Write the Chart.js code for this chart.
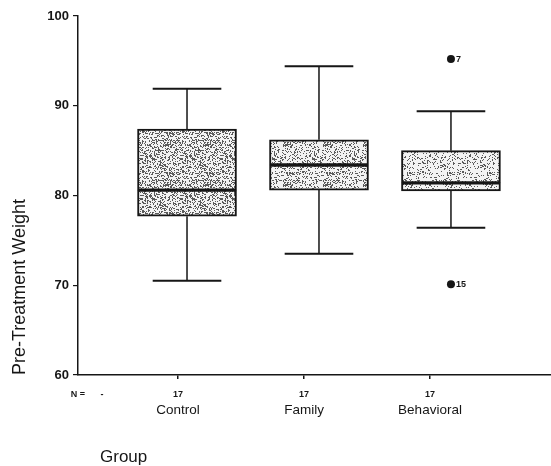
<!DOCTYPE html>
<html>
<head>
<meta charset="utf-8">
<script src="https://cdn.jsdelivr.net/npm/chart.js@4.4.1/dist/chart.umd.min.js"></script>
<style>
  html, body { margin: 0; padding: 0; background: #fff; }
</style>
</head>
<body>
<canvas id="boxChart" width="551" height="466"></canvas>
<script>
// values
const groups = ['Control', 'Family', 'Behavioral'];
const groupN = [17, 17, 17];
const whiskerLow = [70.5, 73.5, 76.4];
const quartile1 = [77.7, 80.6, 80.5];
const medians = [80.6, 83.4, 81.4];
const quartile3 = [87.4, 86.2, 85.0];
const whiskerHigh = [91.9, 94.4, 89.4];
const outlierGroup = [3, 3];
const outlierValues = [95.2, 70.1];
const outlierIds = ['7', '15'];
const yTicks = [60, 70, 80, 90, 100];

const INK = '#161616';
Chart.defaults.font.family = '"Liberation Sans", Arial, Helvetica, sans-serif';
Chart.defaults.color = INK;

// speckled grey fill like the scanned boxes (fixed hash, not random)
function stipple(density) {
    const size = 40;
    const c = document.createElement('canvas');
    c.width = c.height = size;
    const g = c.getContext('2d');
    g.fillStyle = '#f3f3f3';
    g.fillRect(0, 0, size, size);
    g.fillStyle = '#5a5a5a';
    for (let i = 0; i < size; i++) {
        for (let j = 0; j < size; j++) {
            const s = Math.sin(i * 12.9898 + j * 78.233) * 43758.5453;
            if (s - Math.floor(s) < density) g.fillRect(i, j, 1, 1);
        }
    }
    return g.createPattern(c, 'repeat');
}
const fills = [stipple(0.36), stipple(0.27), stipple(0.2)];

const capHalf = 0.26;
const stems = [];
const caps = [];
groups.forEach((g, i) => {
    const x = i + 1;
    stems.push({x: x, y: quartile3[i]}, {x: x, y: whiskerHigh[i]}, {x: x, y: null});
    stems.push({x: x, y: quartile1[i]}, {x: x, y: whiskerLow[i]}, {x: x, y: null});
    caps.push({x: x - capHalf, y: whiskerHigh[i]}, {x: x + capHalf, y: whiskerHigh[i]}, {x: x, y: null});
    caps.push({x: x - capHalf, y: whiskerLow[i]}, {x: x + capHalf, y: whiskerLow[i]}, {x: x, y: null});
});

const boxStyle = {
    type: 'bar',
    grouped: false,
    barThickness: 99,
    borderWidth: 2,
    borderColor: INK,
    borderSkipped: false,
    backgroundColor: fills,
    xAxisID: 'x',
    yAxisID: 'y'
};

const outlierLabels = {
    id: 'outlierLabels',
    afterDatasetsDraw(chart) {
        const ctx = chart.ctx;
        const meta = chart.getDatasetMeta(4);
        ctx.save();
        ctx.font = 'bold 9px "Liberation Sans", Arial, sans-serif';
        ctx.fillStyle = INK;
        ctx.textBaseline = 'middle';
        meta.data.forEach((pt, i) => {
            ctx.fillText(outlierIds[i], pt.x + 5, pt.y);
        });
        ctx.restore();
    }
};

const groupTitle = {
    id: 'groupTitle',
    afterDraw(chart) {
        const ctx = chart.ctx;
        ctx.save();
        ctx.font = '17px "Liberation Sans", Arial, sans-serif';
        ctx.fillStyle = INK;
        ctx.textBaseline = 'middle';
        ctx.fillText('Group', chart.chartArea.left + 22, chart.height - 9);
        ctx.restore();
    }
};

// label axes (N row and group names) sit a bit left of the boxes in the scan
const labelMin = 0.2063, labelMax = 3.9603;

const ctx = document.getElementById('boxChart').getContext('2d');
const myChart = new Chart(ctx, {
    data: {
        datasets: [
            Object.assign({
                label: 'lower box',
                data: groups.map((g, i) => ({x: i + 1, y: [quartile1[i], medians[i]]}))
            }, boxStyle),
            Object.assign({
                label: 'upper box',
                data: groups.map((g, i) => ({x: i + 1, y: [medians[i], quartile3[i]]}))
            }, boxStyle),
            {
                type: 'line',
                label: 'whiskers',
                data: stems,
                borderColor: INK,
                borderWidth: 1.5,
                pointRadius: 0,
                spanGaps: false,
                xAxisID: 'x',
                yAxisID: 'y'
            },
            {
                type: 'line',
                label: 'caps',
                data: caps,
                borderColor: INK,
                borderWidth: 2,
                pointRadius: 0,
                spanGaps: false,
                xAxisID: 'x',
                yAxisID: 'y'
            },
            {
                type: 'scatter',
                label: 'outliers',
                data: outlierGroup.map((g, i) => ({x: g, y: outlierValues[i]})),
                pointRadius: 4,
                pointBackgroundColor: INK,
                pointBorderWidth: 0,
                xAxisID: 'x',
                yAxisID: 'y'
            }
        ]
    },
    options: {
        responsive: false,
        animation: false,
        layout: {
            autoPadding: false,
            padding: {top: 16, right: 0, bottom: 42, left: 0}
        },
        plugins: {
            legend: {display: false},
            tooltip: {enabled: false}
        },
        scales: {
            x: {
                type: 'linear',
                offset: false,
                min: 0.174,
                max: 3.758,
                display: false
            },
            xn: {
                type: 'linear',
                position: 'bottom',
                offset: false,
                weight: 0,
                min: labelMin,
                max: labelMax,
                afterBuildTicks: s => {
                    s.ticks = [{value: labelMin}, {value: 0.397}].concat(groups.map((g, i) => ({value: i + 1})));
                },
                ticks: {
                    autoSkip: false,
                    maxRotation: 0,
                    padding: 10,
                    font: {size: 9, weight: 'bold'},
                    callback: (v, idx) => idx === 0 ? 'N =' : (idx === 1 ? '-' : String(groupN[idx - 2]))
                },
                grid: {
                    drawOnChartArea: false,
                    tickLength: 4,
                    lineWidth: 1.5,
                    color: c => (c.tick && c.tick.value >= 1) ? INK : 'rgba(0,0,0,0)'
                },
                border: {display: true, color: INK, width: 1.5},
                afterFit: s => { s.height = 24; }
            },
            xg: {
                type: 'linear',
                position: 'bottom',
                offset: false,
                weight: 1,
                min: labelMin,
                max: labelMax,
                afterBuildTicks: s => {
                    s.ticks = groups.map((g, i) => ({value: i + 1}));
                },
                ticks: {
                    autoSkip: false,
                    maxRotation: 0,
                    padding: 3,
                    font: {size: 13.5},
                    callback: (v, idx) => groups[idx]
                },
                grid: {display: false, drawTicks: false},
                border: {display: false},
                afterFit: s => { s.height = 25; }
            },
            y: {
                type: 'linear',
                min: 60,
                max: 100,
                afterBuildTicks: s => {
                    s.ticks = yTicks.map(v => ({value: v}));
                },
                ticks: {
                    padding: 4,
                    font: {size: 13, weight: 'bold'}
                },
                grid: {
                    drawOnChartArea: false,
                    tickLength: 5,
                    lineWidth: 1.2,
                    color: INK
                },
                border: {color: INK, width: 1.5},
                title: {
                    display: true,
                    text: 'Pre-Treatment Weight',
                    align: 'start',
                    font: {size: 18},
                    padding: {top: 9, bottom: 0}
                },
                afterFit: s => { s.width = 78; }
            }
        }
    },
    plugins: [outlierLabels, groupTitle]
});
</script>
</body>
</html>
